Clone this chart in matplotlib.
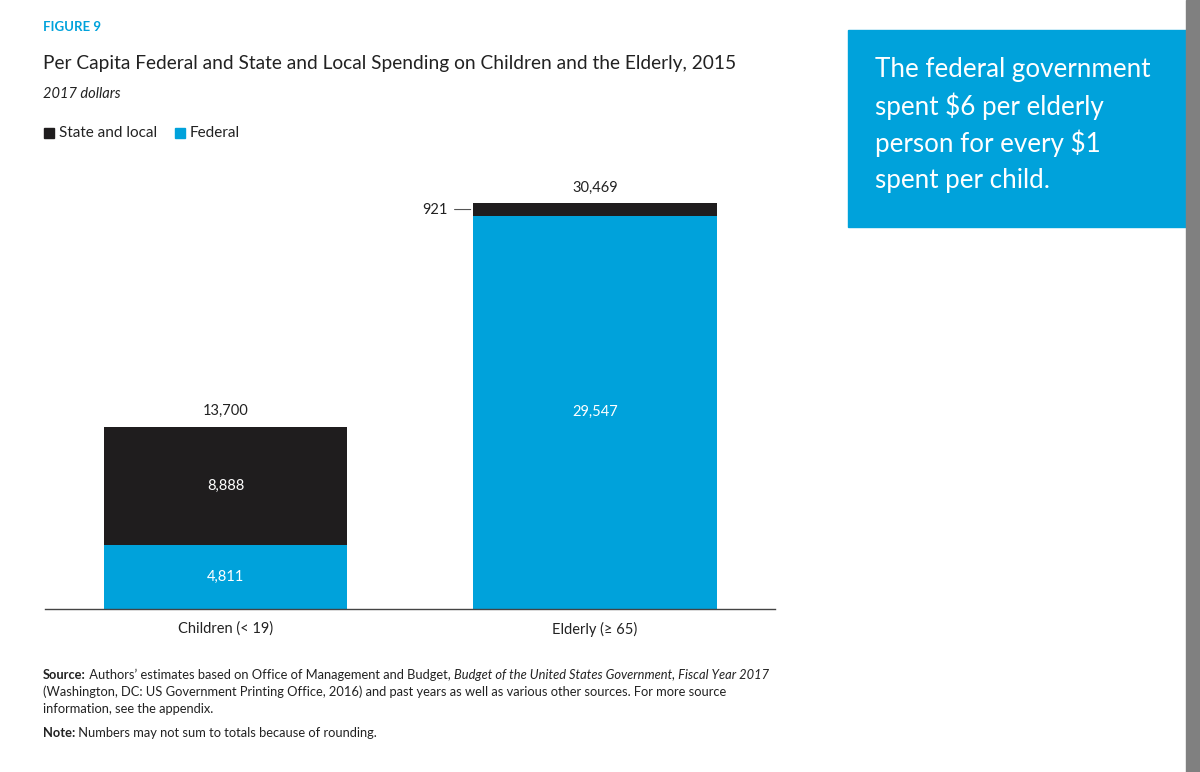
import matplotlib
matplotlib.use("Agg")
import matplotlib.pyplot as plt
from matplotlib.patches import Rectangle
import numpy as np

plt.rcParams['font.family'] = ['Lato', 'DejaVu Sans']

# data
categories = ["Children (< 19)", "Elderly (\u2265 65)"]
federal = [4811, 29547]
state_local = [8888, 921]
totals = [13700, 30469]

blue = '#00a2db'
black = '#1f1d1e'
txt = '#222222'

W, H = 1200, 772
fig = plt.figure(figsize=(W / 100, H / 100), dpi=100)
fig.patch.set_facecolor('white')


def fx(px):
    return px / W


def fy(py):
    return 1 - py / H


ax = fig.add_axes([fx(45), fy(609), fx(775) - fx(45), fy(183) - fy(609)])
x = np.arange(len(categories))
bw = 0.658
ax.bar(x, federal, bw, color=blue, zorder=2)
ax.bar(x, state_local, bw, bottom=federal, color=black, zorder=2)
ax.set_xlim(-0.4885, 1.487)
ax.set_ylim(0, 32000)
for s in ['top', 'right', 'left']:
    ax.spines[s].set_visible(False)
ax.spines['bottom'].set_color('#444444')
ax.spines['bottom'].set_linewidth(1.0)
ax.set_yticks([])
ax.set_xticks(x)
ax.set_xticklabels(categories, fontsize=10.5, color=txt)
ax.tick_params(axis='x', length=0, pad=9)

# totals on top
for i, t in enumerate(totals):
    ax.annotate(f"{t:,}", (x[i], t), xytext=(0, 6), textcoords='offset points',
                ha='center', va='bottom', fontsize=10.5, color=txt)

# inside labels
for i in range(len(categories)):
    ax.text(x[i], federal[i] / 2, f"{federal[i]:,}", ha='center', va='center',
            fontsize=10.5, color='white')
ax.text(x[0], federal[0] + state_local[0] / 2, f"{state_local[0]:,}", ha='center',
        va='center', fontsize=10.5, color='white')
# small state and local segment of elderly: label outside with leader line
mid = federal[1] + state_local[1] / 2
ax.annotate(f"{state_local[1]:,}", xy=(x[1] - bw / 2, mid),
            xytext=(x[1] - bw / 2 - 0.07, mid), textcoords='data',
            ha='right', va='center', fontsize=10.5, color=txt,
            arrowprops=dict(arrowstyle='-', color='#555555', lw=0.8,
                            shrinkA=3, shrinkB=2))

# header texts
fig.text(fx(43), fy(27), "FIGURE 9", fontsize=9.5, fontweight='bold', color=blue,
         va='center', ha='left')
fig.text(fx(43), fy(63), "Per Capita Federal and State and Local Spending on Children and the Elderly, 2015",
         fontsize=13.75, color=txt, va='center', ha='left')
fig.text(fx(43), fy(94), "2017 dollars", fontsize=10.5, style='italic', color=txt,
         va='center', ha='left')

# legend
fig.patches.append(Rectangle((fx(44), fy(138)), fx(10), 10 / H, transform=fig.transFigure,
                             color=black, figure=fig))
fig.text(fx(59), fy(133), "State and local", fontsize=11, color=txt, va='center')
fig.patches.append(Rectangle((fx(175), fy(138)), fx(10), 10 / H, transform=fig.transFigure,
                             color=blue, figure=fig))
fig.text(fx(190), fy(133), "Federal", fontsize=11, color=txt, va='center')

# source / note, chained pieces with different styles
renderer = fig.canvas.get_renderer()


def chain(py, pieces, x0=43, size=9.3):
    xp = x0
    for s, kw in pieces:
        t = fig.text(fx(xp), fy(py), s, fontsize=size, color=txt, va='center', **kw)
        xp += t.get_window_extent(renderer).width


chain(675, [("Source:", dict(fontweight='bold')),
            (" Authors\u2019 estimates based on Office of Management and Budget, ", {}),
            ("Budget of the United States Government, Fiscal Year 2017", dict(style='italic'))])
chain(692, [("(Washington, DC: US Government Printing Office, 2016) and past years as well as various other sources. For more source", {})])
chain(709, [("information, see the appendix.", {})])
chain(733, [("Note:", dict(fontweight='bold')),
            (" Numbers may not sum to totals because of rounding.", {})])

# callout box
fig.patches.append(Rectangle((fx(848), fy(227)), fx(1186 - 848), (227 - 30) / H,
                             transform=fig.transFigure, color=blue, figure=fig))
callout = ["The federal government", "spent $6 per elderly",
           "person for every $1", "spent per child."]
for k, line in enumerate(callout):
    fig.text(fx(875), fy(69 + 37.3 * k), line.replace('$', r'\$'), fontsize=18.7,
             color='white', va='center', ha='left')

# gray strip at right edge
fig.patches.append(Rectangle((fx(1186), 0), fx(14), 1, transform=fig.transFigure,
                             color='#808080', figure=fig))

fig.savefig("out.png", dpi=100)
